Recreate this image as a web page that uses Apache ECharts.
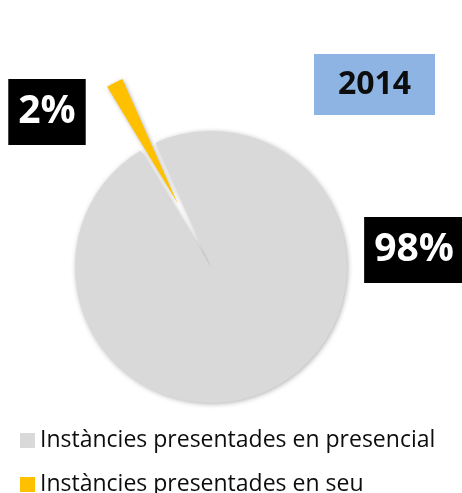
<!DOCTYPE html>
<html>
<head>
<meta charset="utf-8">
<script src="https://cdn.jsdelivr.net/npm/echarts@6/dist/echarts.min.js"></script>
<style>
  html, body { margin: 0; padding: 0; background: #fff; }
  #chart { width: 462px; height: 493px; }
</style>
</head>
<body>
<div id="chart"></div>
<script>
  // data
  var yearLabel = '2014'
  var categories = ['Instàncies presentades en presencial', 'Instàncies presentades en seu']
  var shares = [98, 2]
  var sliceColors = ['#D9D9D9', '#FFC000']

  // layout
  var pieCenter = [211, 267]
  var pieRadius = 136
  var startAngle = 114
  var explode = 72          // how far the small slice is pulled out
  var labelSpots = [
    { x: 414, y: 250 },
    { x: 47, y: 112 }
  ]

  // direction of the small slice's bisector (ECharts angles: ccw from 3 o'clock)
  var total = shares.reduce(function (a, b) { return a + b }, 0)
  var before = shares[0] / total * 360
  var mid = (startAngle - before - (shares[1] / total * 360) / 2) * Math.PI / 180
  var explodedCenter = [
    pieCenter[0] + explode * Math.cos(mid),
    pieCenter[1] - explode * Math.sin(mid)
  ]

  function pieData(showIdx) {
    return categories.map(function (c, i) {
      return {
        name: c,
        value: shares[i],
        itemStyle: { color: i === showIdx ? sliceColors[i] : 'rgba(0,0,0,0)' }
      }
    })
  }

  var chart = echarts.init(document.getElementById('chart'))

  var legendText = { fontFamily: 'Open Sans', fontSize: 23, color: '#0d0d0d' }

  var option = {
    animation: false,
    title: {
      text: '{y|' + yearLabel + '}',
      left: 314,
      top: 54,
      padding: 0,
      textStyle: {
        rich: {
          y: {
            width: 121,
            height: 61,
            align: 'center',
            verticalAlign: 'middle',
            backgroundColor: '#8EB4E3',
            color: '#0d0d0d',
            fontFamily: 'Open Sans',
            fontWeight: 'bold',
            fontSize: 32
          }
        }
      }
    },
    legend: categories.map(function (c, i) {
      return {
        left: 20,
        top: 429 + i * 44,
        padding: 0,
        icon: 'rect',
        itemWidth: 15,
        itemHeight: 15,
        textStyle: legendText,
        data: [{ name: c, itemStyle: { color: sliceColors[i] } }]
      }
    }),
    series: [{
      type: 'pie',
      center: pieCenter,
      radius: pieRadius,
      startAngle: startAngle,
      clockwise: true,
      silent: true,
      avoidLabelOverlap: false,
      itemStyle: {
        shadowBlur: 5,
        shadowColor: 'rgba(0,0,0,0.3)',
        shadowOffsetX: 1,
        shadowOffsetY: 1
      },
      label: {
        show: true,
        formatter: function (p) { return Math.round(p.percent) + '%' },
        color: '#fff',
        fontFamily: 'Open Sans',
        fontWeight: 'bold',
        fontSize: 39,
        backgroundColor: '#000',
        padding: [15, 10, 12, 10]
      },
      labelLine: { show: false },
      labelLayout: function (p) {
        var s = labelSpots[p.dataIndex]
        return { x: s.x, y: s.y, align: 'center', verticalAlign: 'middle' }
      },
      emphasis: { disabled: true },
      data: pieData(0)
    }, {
      // the pulled-out small slice
      type: 'pie',
      center: explodedCenter,
      radius: pieRadius,
      startAngle: startAngle,
      clockwise: true,
      silent: true,
      itemStyle: {
        shadowBlur: 4,
        shadowColor: 'rgba(0,0,0,0.3)',
        shadowOffsetX: 1,
        shadowOffsetY: 1
      },
      label: { show: false },
      labelLine: { show: false },
      emphasis: { disabled: true },
      data: pieData(1)
    }]
  }

  chart.setOption(option)
</script>
</body>
</html>
